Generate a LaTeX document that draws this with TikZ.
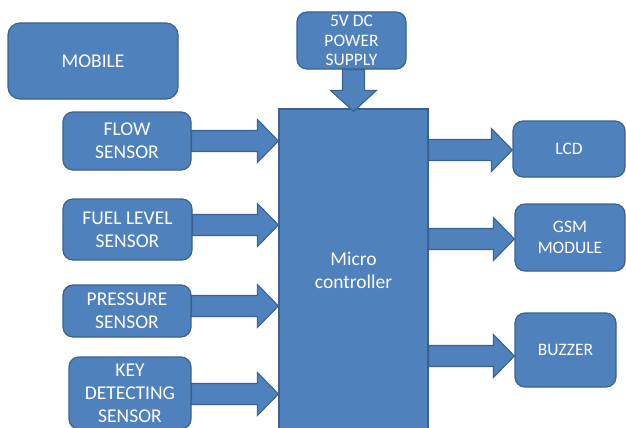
\documentclass[tikz,border=0pt]{standalone}
\usepackage{fontspec}
\setmainfont{Carlito}
\usetikzlibrary{calc}
\definecolor{boxfill}{HTML}{4F81BD}
\definecolor{boxline}{HTML}{3A6290}
\tikzset{
  blk/.style={draw=boxline, fill=boxfill, line width=1.2pt, rounded corners=10pt,
    inner sep=0pt, align=center, text=white},
  bigtxt/.style={font=\fontsize{19.5}{23}\selectfont},
  smalltxt/.style={font=\fontsize{17.5}{21}\selectfont},
  blockarrow/.style={draw=boxline, fill=boxfill, line width=1.1pt, line join=miter},
}
\newcommand\harrow[2]{%
  \draw[blockarrow] let \p1=#1, \p2=#2 in
    (\x1,\y2+10.5pt) -- (\x2-21pt,\y2+10.5pt) -- (\x2-21pt,\y2+21.5pt) -- (\x2,\y2)
    -- (\x2-21pt,\y2-21.5pt) -- (\x2-21pt,\y2-10.5pt) -- (\x1,\y2-10.5pt) -- cycle;}
\newcommand\varrow[2]{%
  \draw[blockarrow] let \p1=#1, \p2=#2 in
    (\x2+11pt,\y1) -- (\x2+11pt,\y2+21pt) -- (\x2+23pt,\y2+21pt) -- (\x2,\y2)
    -- (\x2-23pt,\y2+21pt) -- (\x2-11pt,\y2+21pt) -- (\x2-11pt,\y1) -- cycle;}
\begin{document}
\begin{tikzpicture}[x=1pt,y=-1pt]
\useasboundingbox (0,0) rectangle (626,428);
\clip (0,0) rectangle (626,428);
\node[blk, bigtxt, rounded corners=12pt, minimum width=170pt, minimum height=76pt] (mobile) at (93,61) {MOBILE};
\node[blk, bigtxt, minimum width=128pt, minimum height=58pt] (flow) at (127,141) {FLOW\\SENSOR};
\node[blk, bigtxt, minimum width=129pt, minimum height=61pt] (fuel) at (127.5,229.5) {FUEL LEVEL\\SENSOR};
\node[blk, bigtxt, minimum width=128pt, minimum height=52pt] (pressure) at (127,311) {PRESSURE\\SENSOR};
\node[blk, bigtxt, minimum width=122pt, minimum height=72pt] (key) at (130,393) {KEY\\DETECTING\\SENSOR};
\node[blk, smalltxt, font=\fontsize{17.5}{19.5}\selectfont, minimum width=109pt, minimum height=57pt] (power) at (351.5,40.5) {5V DC\\POWER\\SUPPLY};
\node[blk, smalltxt, minimum width=112pt, minimum height=56pt] (lcd) at (569,149) {LCD};
\node[blk, smalltxt, minimum width=110pt, minimum height=67pt] (gsm) at (570,237.5) {GSM\\MODULE};
\node[blk, smalltxt, minimum width=101pt, minimum height=74pt] (buzzer) at (565.5,350) {BUZZER};
\node[blk, bigtxt, rounded corners=0pt, minimum width=149pt, minimum height=322pt] (micro) at (353.5,270) {Micro\\controller};
\harrow{(flow.east)}{(micro.west |- 0,141)}
\harrow{(fuel.east)}{(micro.west |- 0,225)}
\harrow{(pressure.east)}{(micro.west |- 0,306)}
\harrow{(key.east)}{(micro.west |- 0,394)}
\harrow{(micro.east)}{(lcd.west |- 0,150)}
\harrow{(micro.east)}{(gsm.west |- 0,239)}
\harrow{(micro.east)}{(buzzer.west |- 0,356)}
\varrow{(power.south)}{([yshift=-3pt]micro.north)}
\end{tikzpicture}
\end{document}
